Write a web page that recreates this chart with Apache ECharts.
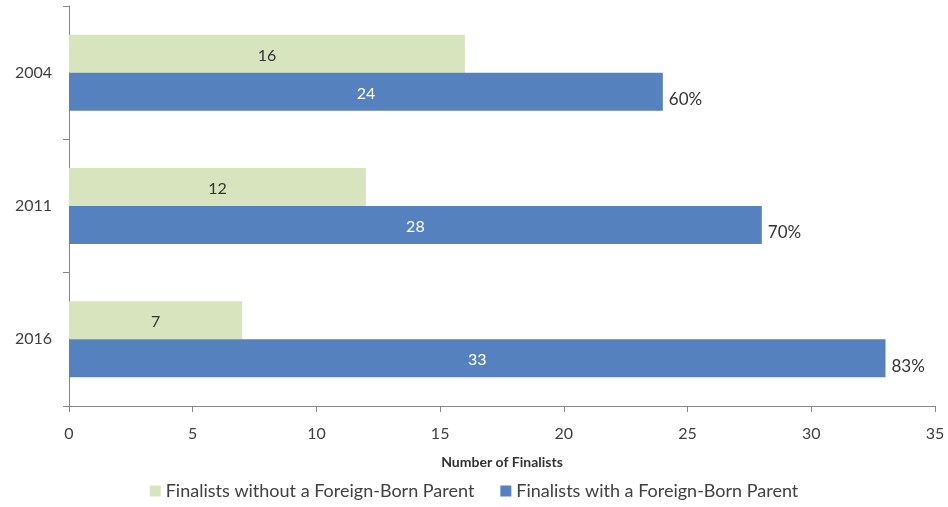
<!DOCTYPE html>
<html>
<head>
<meta charset="utf-8">
<script src="https://cdn.jsdelivr.net/npm/echarts@6/dist/echarts.min.js"></script>
<style>
  html, body { margin: 0; padding: 0; background: #fff; }
  #chart { width: 948px; height: 507px; }
</style>
</head>
<body>
<div id="chart"></div>
<script>
// data
let years = ['2004', '2011', '2016'];
let withoutParent = [16, 12, 7];
let withParent = [24, 28, 33];
let xTicks = [0, 5, 10, 15, 20, 25, 30, 35];

// share of finalists with a foreign-born parent
let shares = withParent.map((v, i) => Math.round(v / (v + withoutParent[i]) * 100) + '%');

let font = 'Lato, "Open Sans", sans-serif';
let myChart = echarts.init(document.getElementById('chart'));
myChart.setOption({
    animation: false,
    textStyle: {fontFamily: font},
    grid: {left: 69, right: 13, top: 6, bottom: 101},
    legend: {
        bottom: 2,
        left: 'center',
        itemWidth: 11,
        itemHeight: 11,
        itemGap: 26,
        icon: 'rect',
        data: ['Finalists without a Foreign-Born Parent', 'Finalists with a Foreign-Born Parent'],
        textStyle: {fontSize: 18, color: '#404040', fontFamily: font}
    },
    xAxis: {
        type: 'value',
        min: xTicks[0],
        max: xTicks[xTicks.length - 1],
        interval: 5,
        name: 'Number of Finalists',
        nameLocation: 'middle',
        nameGap: 49,
        nameTextStyle: {fontSize: 14, fontWeight: 'bold', color: '#333', fontFamily: font},
        axisLine: {show: true, lineStyle: {color: '#868686'}},
        axisTick: {show: true, length: 6, lineStyle: {color: '#868686'}},
        axisLabel: {fontSize: 16, color: '#404040', margin: 20},
        splitLine: {show: false}
    },
    yAxis: {
        type: 'category',
        data: years,
        inverse: true,
        axisLine: {lineStyle: {color: '#868686'}},
        axisTick: {show: true, length: 6, lineStyle: {color: '#868686'}},
        axisLabel: {fontSize: 16, color: '#404040', margin: 17}
    },
    series: [
        {
            name: 'Finalists without a Foreign-Born Parent',
            type: 'bar',
            data: withoutParent,
            barWidth: 38,
            barGap: '0%',
            itemStyle: {color: '#d7e4bd'},
            label: {show: true, position: 'inside', offset: [0, 2], fontSize: 16, color: '#333'}
        },
        {
            name: 'Finalists with a Foreign-Born Parent',
            type: 'bar',
            stack: 'with',
            data: withParent,
            barWidth: 38,
            barGap: '0%',
            itemStyle: {color: '#5581bf'},
            label: {show: true, position: 'inside', offset: [0, 2], fontSize: 16, color: '#fff'}
        },
        {
            // zero-width bar on top of the blue one, carries the % label
            name: 'share',
            type: 'bar',
            stack: 'with',
            data: withParent.map(() => 0),
            barWidth: 38,
            barGap: '0%',
            itemStyle: {color: 'transparent'},
            label: {
                show: true,
                position: 'right',
                distance: 6,
                offset: [0, 8],
                fontSize: 17,
                color: '#333',
                formatter: (p) => shares[p.dataIndex]
            },
            tooltip: {show: false}
        }
    ]
});
</script>
</body>
</html>
